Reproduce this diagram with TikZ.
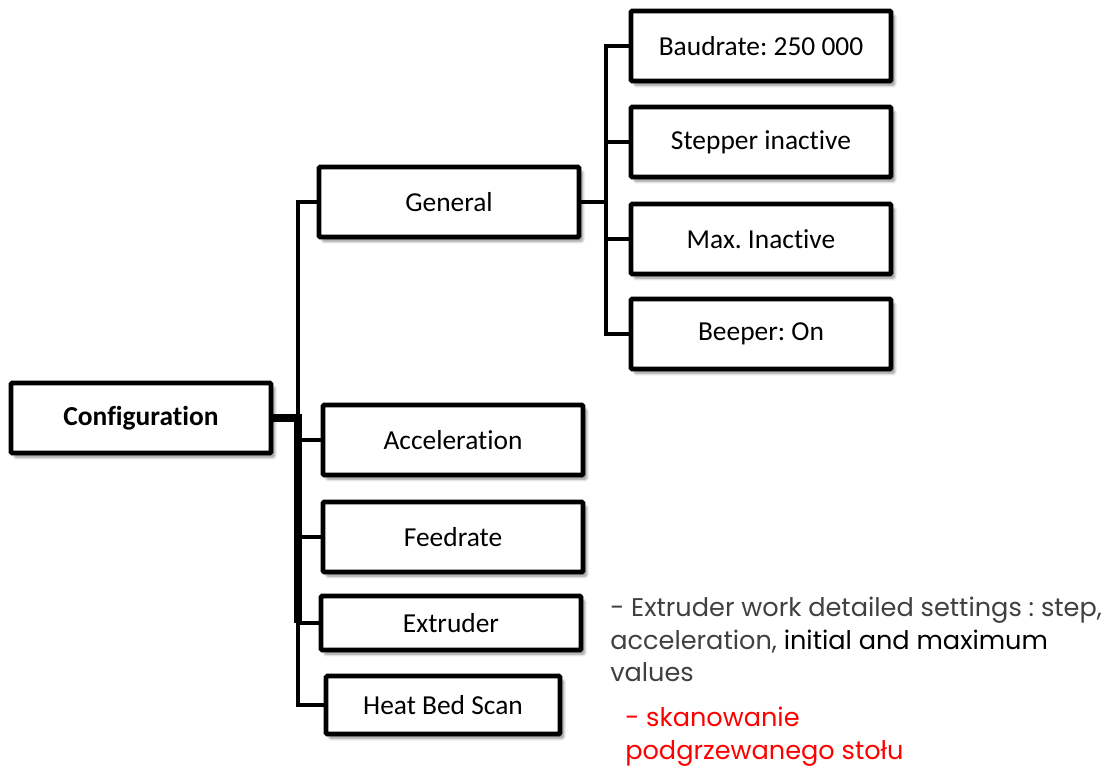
\documentclass[tikz,border=0pt]{standalone}
\usepackage{fontspec}
\setmainfont{Carlito}[Ligatures=CommonOff]
\newfontfamily\notefont{Poppins}
\usetikzlibrary{shadows.blur}
\frenchspacing

\definecolor{notegray}{HTML}{404040}
\definecolor{notered}{HTML}{FF0000}

\tikzset{
	item/.style={draw=black,line width=3.4pt,fill=white,rounded corners=1pt,
		minimum width=6.5cm,minimum height=1.75cm,inner sep=2pt,
		font=\fontsize{19.5}{22}\selectfont,
		blur shadow={shadow xshift=2.5pt,shadow yshift=-3pt,shadow blur steps=8,shadow opacity=45}},
	bus/.style={line width=3.2pt},
	trunk/.style={line width=6pt},
	note/.style={anchor=north west,align=left,inner sep=0pt,
		font=\notefont\fontsize{18.2}{23}\selectfont}
}

\begin{document}
\begin{tikzpicture}[x=0.025cm,y=-0.025cm]
	\useasboundingbox (0,0) rectangle (1114,772);
	
	% tree nodes
	\node[item,font=\fontsize{19.5}{22}\selectfont\bfseries] (config) at (141,418) {Configuration};
	\node[item] (general) at (449,202) {General};
	\node[item] (accel) at (453,440) {Acceleration};
	\node[item] (feed) at (453,537) {Feedrate};
	\node[item,minimum height=1.35cm] (extruder) at (451,623) {Extruder};
	\node[item,minimum width=5.85cm,minimum height=1.45cm] (heatbed) at (443,705) {Heat Bed Scan};
	
	\node[item] (baud) at (761,46) {Baudrate: 250 000};
	\node[item] (stepper) at (761,142) {Stepper inactive};
	\node[item] (maxin) at (761,239) {Max. Inactive};
	\node[item] (beeper) at (761,334) {Beeper: On};
	
	% connectors
	\coordinate (hub) at (298,418);
	\coordinate (tap) at (606,202);
	\draw[bus] (general.west) -| (hub);
	\draw[trunk] (config.east) -- (hub) -- (hub |- extruder.west);
	\foreach \n in {accel,feed,extruder,heatbed}
	{
		\draw[bus] (hub) |- (\n.west);
	}
	\draw[bus] (general.east) -- (tap);
	\foreach \n in {baud,stepper,maxin,beeper}
	{
		\draw[bus] (tap) |- (\n.west);
	}
	
	% side notes
	\node[note,text=notegray] (extnote) at (610,597)
	{- Extruder work detailed settings : step,\\
		acceleration, {\color{black}initial and maximum}\\
		values};
	\node[note,text=notered] (bednote) at (625,707)
	{- skanowanie\\
		podgrzewanego stołu};
\end{tikzpicture}
\end{document}
